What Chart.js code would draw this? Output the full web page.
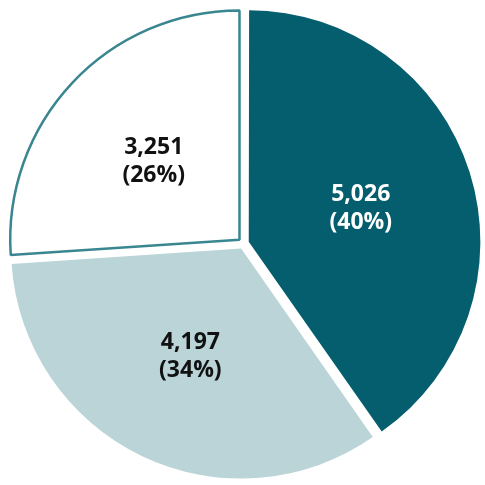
<!DOCTYPE html>
<html>
<head>
<meta charset="utf-8">
<script src="https://cdn.jsdelivr.net/npm/chart.js@4"></script>
<style>
    html, body { margin: 0; padding: 0; background: #fff; }
    #wrap { width: 485px; height: 485px; }
</style>
</head>
<body>
<div id="wrap"><canvas id="pieChart"></canvas></div>
<script>
const labels = ['A', 'B', 'C'];
const values = [5026, 4197, 3251];
const fillColors = ['#045e6e', '#bad4d8', '#ffffff'];
const lineColors = ['#045e6e', '#bad4d8', '#3a8690'];
const lineWidths = [0, 0, 2.5];
const textColors = ['#ffffff', '#111111', '#111111'];

// draws "value (pct%)" in the middle of each slice
const sliceLabels = {
    id: 'sliceLabels',
    afterDatasetsDraw(chart) {
        const ctx = chart.ctx;
        const meta = chart.getDatasetMeta(0);
        const total = values.reduce((a, b) => a + b, 0);
        ctx.save();
        ctx.font = '700 23px "Open Sans"';
        ctx.textAlign = 'center';
        ctx.textBaseline = 'middle';
        meta.data.forEach((arc, i) => {
            const p = arc.getProps(['x', 'y', 'startAngle', 'endAngle', 'outerRadius'], true);
            const mid = (p.startAngle + p.endAngle) / 2;
            const r = p.outerRadius * 0.51 + 6;
            const x = p.x + Math.cos(mid) * r;
            const y = p.y + Math.sin(mid) * r + 2;
            const pct = Math.round(values[i] / total * 100);
            ctx.fillStyle = textColors[i];
            ctx.fillText(values[i].toLocaleString('en-US'), x, y - 14);
            ctx.fillText('(' + pct + '%)', x, y + 14);
        });
        ctx.restore();
    }
};

const ctx = document.getElementById('pieChart').getContext('2d');
const myChart = new Chart(ctx, {
    type: 'pie',
    data: {
        labels: labels,
        datasets: [{
            data: values,
            backgroundColor: fillColors,
            borderColor: lineColors,
            borderWidth: lineWidths,
            offset: 22,   // arc draws offset / 4 px
            hoverOffset: 22
        }]
    },
    options: {
        responsive: true,
        maintainAspectRatio: false,
        animation: false,
        layout: { padding: { left: 2, right: 0, top: 2, bottom: 0 } },
        plugins: {
            legend: { display: false },
            tooltip: { enabled: false }
        }
    },
    plugins: [sliceLabels]
});
</script>
</body>
</html>
